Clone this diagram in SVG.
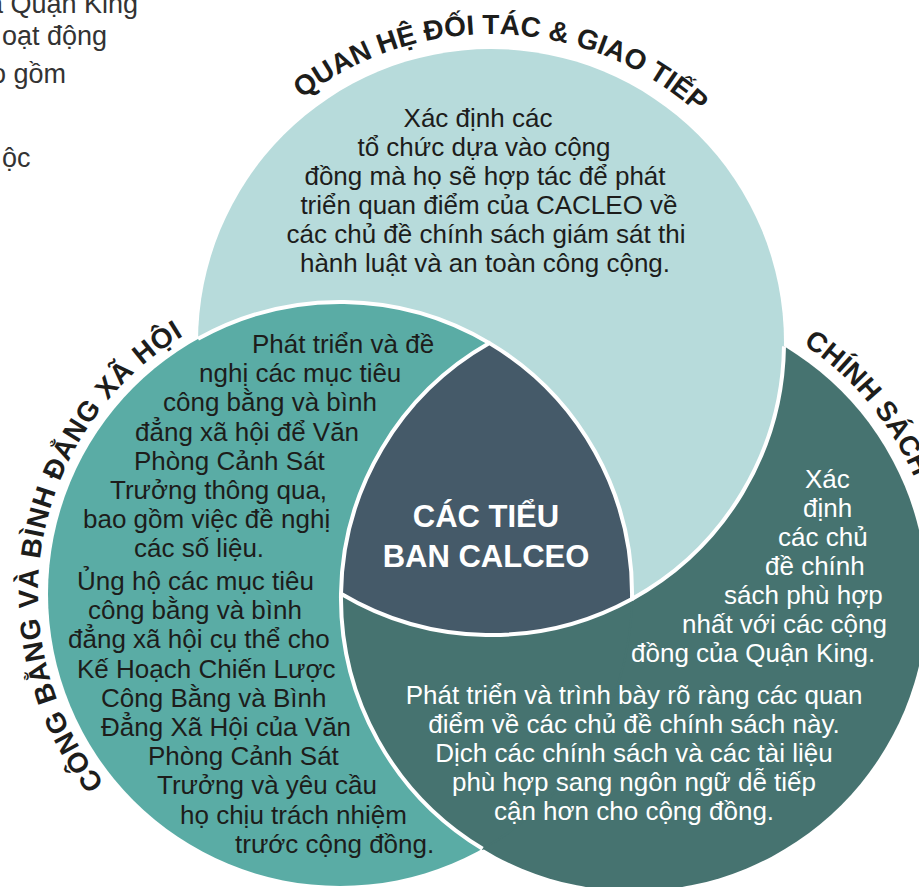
<svg xmlns="http://www.w3.org/2000/svg" width="919" height="887" viewBox="0 0 919 887">
<style>
.t{font-family:"Liberation Sans",Arial,sans-serif;font-size:26px;fill:#1d1d1b}
.w{fill:#ffffff}
.bg{font-family:"Liberation Sans",Arial,sans-serif;font-size:27px;fill:#333333}
.ttl{font-family:"Liberation Sans",Arial,sans-serif;font-size:28px;font-weight:bold;fill:#1d1d1b}
.ctr{font-family:"Liberation Sans",Arial,sans-serif;font-size:31px;font-weight:bold;fill:#ffffff}
.edge{fill:none;stroke:#ffffff;stroke-width:4}
</style>
<defs>
<path id="arcTop" d="M183,342 A308,308 0 0 1 799,342"/>
<path id="arcLeft" d="M340,896 A302,302 0 0 1 340,292"/>
<path id="arcRight" d="M634,293 A305,305 0 0 1 634,903"/>
</defs>
<g id="page-text">
<text class="bg" x="-12" y="13">a Quận King</text>
<text class="bg" x="2" y="45">oạt động</text>
<text class="bg" x="-9" y="83">o gồm</text>
<text class="bg" x="2" y="167">ộc</text>
</g>
<g id="circles">
<circle id="circle-policy" cx="634" cy="598" r="293" fill="#467370"/>
<circle id="circle-partnership" cx="491" cy="342" r="293" fill="#b7dbdb"/>
<circle id="circle-equity" cx="340" cy="594" r="292" fill="#5aaca5"/>
<path id="overlap-equity-policy" d="M489.4,343.1 A293,293 0 0 0 482.6,848.8 A292,292 0 0 0 489.4,343.1 Z" fill="#467370" stroke="#467370" stroke-width="2"/>
</g>
<g id="connectors">
<path class="edge" d="M784.0,346.3 A293,293 0 0 1 632.0,598.9"/>
<path class="edge" d="M198.0,338.8 A292,292 0 0 1 489.4,343.1"/>
<path class="edge" d="M341.0,593.7 A293,293 0 0 0 482.6,848.8"/>
</g>
<g id="node-center">
<path d="M489.4,343.1 A292,292 0 0 1 632.0,598.9 A293,293 0 0 1 341.0,593.7 A293,293 0 0 1 489.4,343.1 Z" fill="#455a69" stroke="#ffffff" stroke-width="4"/>
<text class="ctr" text-anchor="middle" x="486" y="527">CÁC TIỂU</text>
<text class="ctr" text-anchor="middle" x="486" y="567">BAN CALCEO</text>
</g>
<g id="node-partnership">
<text class="ttl"><textPath href="#arcTop" startOffset="51.2%" text-anchor="middle">QUAN HỆ ĐỐI TÁC &amp; GIAO TIẾP</textPath></text>
<g class="t" text-anchor="middle">
<text x="478" y="127">Xác định các</text>
<text x="484" y="156">tổ chức dựa vào cộng</text>
<text x="485" y="185">đồng mà họ sẽ hợp tác để phát</text>
<text x="489" y="214">triển quan điểm của CACLEO về</text>
<text x="486" y="243">các chủ đề chính sách giám sát thi</text>
<text x="485" y="272">hành luật và an toàn công cộng.</text>
</g>
</g>
<g id="node-equity">
<text class="ttl" letter-spacing="0.8"><textPath href="#arcLeft" startOffset="55.6%" text-anchor="middle">CÔNG BẰNG VÀ BÌNH ĐẲNG XÃ HỘI</textPath></text>
<g class="t">
<text x="252" y="353">Phát triển và đề</text>
<text x="199" y="382">nghị các mục tiêu</text>
<text x="163" y="411">công bằng và bình</text>
<text x="135" y="441">đẳng xã hội để Văn</text>
<text x="134" y="470">Phòng Cảnh Sát</text>
<text x="110" y="499">Trưởng thông qua,</text>
<text x="83" y="528">bao gồm việc đề nghị</text>
<text x="134" y="557">các số liệu.</text>
<text x="77" y="590">Ủng hộ các mục tiêu</text>
<text x="88" y="619">công bằng và bình</text>
<text x="68" y="648">đẳng xã hội cụ thể cho</text>
<text x="77" y="678">Kế Hoạch Chiến Lược</text>
<text x="101" y="707">Công Bằng và Bình</text>
<text x="101" y="736">Đẳng Xã Hội của Văn</text>
<text x="148" y="765">Phòng Cảnh Sát</text>
<text x="157" y="794">Trưởng và yêu cầu</text>
<text x="180" y="824">họ chịu trách nhiệm</text>
<text x="235" y="853">trước cộng đồng.</text>
</g>
</g>
<g id="node-policy">
<text class="ttl"><textPath href="#arcRight" startOffset="18.7%">CHÍNH SÁCH</textPath></text>
<g class="t w">
<text x="805" y="488">Xác</text>
<text x="803" y="517">định</text>
<text x="778" y="546">các chủ</text>
<text x="765" y="575">đề chính</text>
<text x="724" y="604">sách phù hợp</text>
<text x="682" y="633">nhất với các cộng</text>
<text x="631" y="662">đồng của Quận King.</text>
</g>
<g class="t w" text-anchor="middle">
<text x="634" y="704">Phát triển và trình bày rõ ràng các quan</text>
<text x="634" y="733">điểm về các chủ đề chính sách này.</text>
<text x="634" y="762">Dịch các chính sách và các tài liệu</text>
<text x="634" y="791">phù hợp sang ngôn ngữ dễ tiếp</text>
<text x="634" y="820">cận hơn cho cộng đồng.</text>
</g>
</g>
</svg>
